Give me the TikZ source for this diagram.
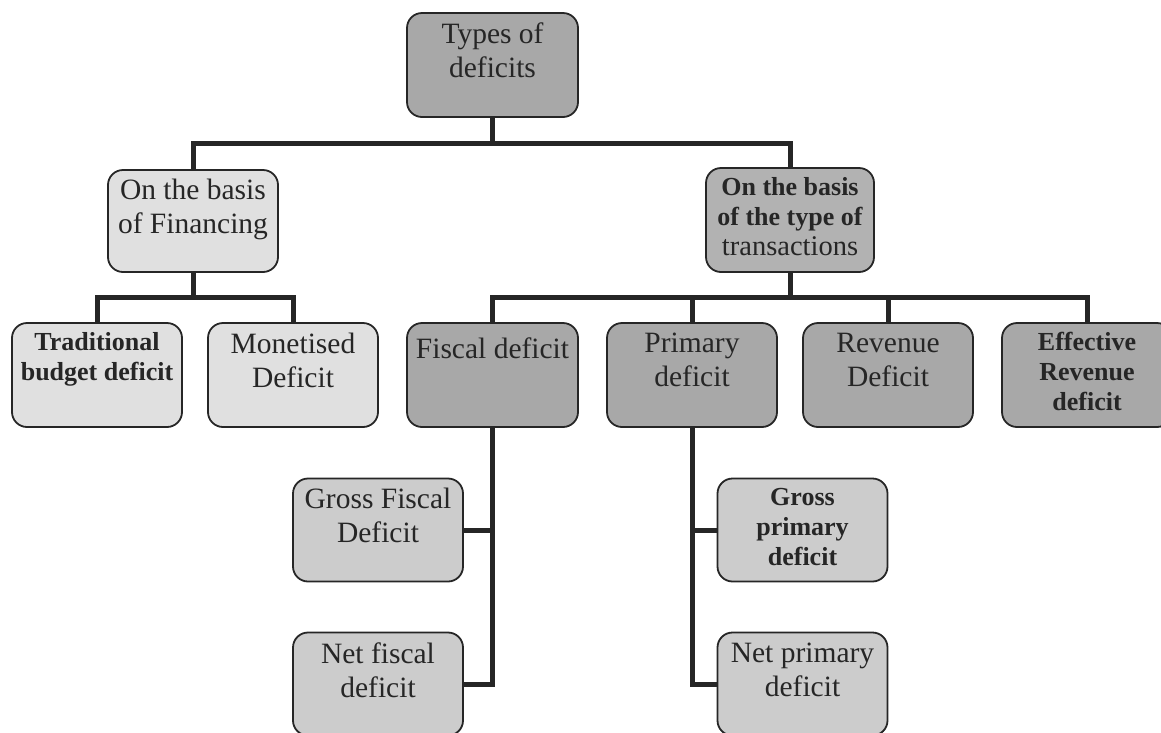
\documentclass[tikz,border=0pt]{standalone}
\usepackage{fontspec}
\setmainfont{Liberation Serif}
\definecolor{dk}{gray}{0.66}
\definecolor{tr}{gray}{0.70}
\definecolor{md}{gray}{0.80}
\definecolor{lt}{gray}{0.88}
\definecolor{ink}{gray}{0.15}
\begin{document}
\begin{tikzpicture}[x=1pt,y=-1pt,
  box/.style={draw=ink, line width=1.8pt, rounded corners=15pt, inner sep=0pt, outer sep=0pt, minimum width=170pt, minimum height=104pt},
  rtxt/.style={anchor=north, align=center, inner sep=0pt, text=ink, font=\fontsize{29.5}{34}\selectfont, execute at begin node={\rule{0pt}{24pt}}},
  btxt/.style={anchor=north, align=center, inner sep=0pt, text=ink, font=\fontsize{26}{30}\selectfont\bfseries, execute at begin node={\rule{0pt}{22pt}}},
  conn/.style={draw=ink, line width=5pt}
]
\useasboundingbox (0,0) rectangle (1161,732);

% boxes
\node[box, fill=dk, minimum width=171pt] (top) at (492.5,65) {};
\node[box, fill=lt, minimum height=102pt] (fin) at (193,221) {};
\node[box, fill=tr, minimum width=168pt] (trans) at (790,220) {};
\node[box, fill=lt] (trad) at (97,375) {};
\node[box, fill=lt] (mon) at (293,375) {};
\node[box, fill=dk, minimum width=171pt] (fis) at (492.5,375) {};
\node[box, fill=dk] (pri) at (692,375) {};
\node[box, fill=dk] (rev) at (888,375) {};
\node[box, fill=dk] (eff) at (1087,375) {};
\node[box, fill=md, minimum height=103pt] (gfd) at (378,530) {};
\node[box, fill=md, minimum height=103pt] (nfd) at (378,684) {};
\node[box, fill=md, minimum height=103pt] (gpd) at (802.5,530) {};
\node[box, fill=md, minimum height=103pt] (npd) at (802.5,684) {};

% texts
\node[rtxt] (topT) at ([yshift=-10pt]top.north) {Types of\\deficits};
\node[rtxt] (finT) at ([yshift=-9pt]fin.north) {On the basis\\of Financing};
\node[btxt] (transT) at ([yshift=-9pt]trans.north) {On the basis\\of the type of\\{\mdseries\fontsize{28.5}{30}\selectfont transactions}};
\node[btxt] (tradT) at ([yshift=-9pt]trad.north) {Traditional\\budget deficit};
\node[rtxt] (monT) at ([yshift=-10pt]mon.north) {Monetised\\Deficit};
\node[rtxt] (fisT) at ([yshift=-11pt]fis.north) {Fiscal deficit};
\node[rtxt] (priT) at ([yshift=-10pt]pri.north) {Primary\\deficit};
\node[rtxt] (revT) at ([yshift=-10pt]rev.north) {Revenue\\Deficit};
\node[btxt] (effT) at ([yshift=-9pt]eff.north) {Effective\\Revenue\\deficit};
\node[rtxt] (gfdT) at ([yshift=-9pt]gfd.north) {Gross Fiscal\\Deficit};
\node[rtxt] (nfdT) at ([yshift=-10pt]nfd.north) {Net fiscal\\deficit};
\node[btxt] (gpdT) at ([yshift=-10pt]gpd.north) {Gross\\primary\\deficit};
\node[rtxt] (npdT) at ([yshift=-10pt]npd.north) {Net primary\\deficit};

% connectors
\coordinate (b0) at (492.5,143);
\draw[conn] (top.south) -- (b0);
\draw[conn] (fin.north) |- (b0) -| (trans.north);
\coordinate (b1) at (193,297);
\draw[conn] (fin.south) -- (b1);
\draw[conn] (trad.north) |- (b1) -| (mon.north);
\coordinate (b2) at (790,297);
\draw[conn] (trans.south) -- (b2);
\draw[conn] (fis.north) |- (b2) -| (eff.north);
\draw[conn] (pri.north) -- (pri.north |- b2);
\draw[conn] (rev.north) -- (rev.north |- b2);
\draw[conn] (fis.south) -- (fis.south |- nfd.east) -- (nfd.east);
\draw[conn] (gfd.east) -- (gfd.east -| fis.south);
\draw[conn] (pri.south) -- (pri.south |- npd.west) -- (npd.west);
\draw[conn] (gpd.west) -- (gpd.west -| pri.south);
\end{tikzpicture}
\end{document}
